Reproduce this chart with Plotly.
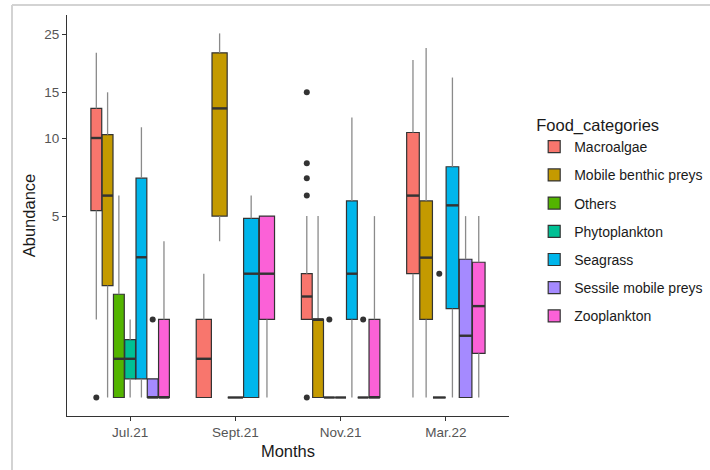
import plotly.graph_objects as go

months = ["Jul.21", "Sept.21", "Nov.21", "Mar.22"]
categories = ["Macroalgae", "Mobile benthic preys", "Others", "Phytoplankton",
              "Seagrass", "Sessile mobile preys", "Zooplankton"]
colors = ["#F8766D", "#C49A00", "#53B400", "#00C094", "#00B6EB", "#A58AFF", "#FB61D7"]

# Box statistics per category, one value per month (None = category absent that month)
low_whisker = {
    "Macroalgae":           [2.0, 1.0, 2.0, 1.0],
    "Mobile benthic preys": [1.0, 4.0, 1.0, 1.0],
    "Others":               [1.0, 1.0, 1.0, 1.0],
    "Phytoplankton":        [1.0, None, 1.0, None],
    "Seagrass":             [1.0, 1.0, 1.0, 1.0],
    "Sessile mobile preys": [1.0, None, 1.0, 1.0],
    "Zooplankton":          [1.0, 1.0, 1.0, 1.0],
}
q1_vals = {
    "Macroalgae":           [5.25, 1.0, 2.0, 3.0],
    "Mobile benthic preys": [2.7, 5.0, 1.0, 2.0],
    "Others":               [1.0, 1.0, 1.0, 1.0],
    "Phytoplankton":        [1.18, None, 1.0, None],
    "Seagrass":             [1.18, 1.0, 2.0, 2.2],
    "Sessile mobile preys": [1.0, None, 1.0, 1.0],
    "Zooplankton":          [1.0, 2.0, 1.0, 1.48],
}
median_vals = {
    "Macroalgae":           [10.0, 1.41, 2.45, 6.0],
    "Mobile benthic preys": [6.0, 13.0, 2.0, 3.46],
    "Others":               [1.41, 1.0, 1.0, 1.0],
    "Phytoplankton":        [1.41, None, 1.0, None],
    "Seagrass":             [3.47, 3.0, 3.0, 5.5],
    "Sessile mobile preys": [1.0, None, 1.0, 1.73],
    "Zooplankton":          [1.0, 3.0, 1.0, 2.25],
}
q3_vals = {
    "Macroalgae":           [13.0, 2.0, 3.0, 10.5],
    "Mobile benthic preys": [10.3, 21.3, 2.0, 5.72],
    "Others":               [2.5, 1.0, 1.0, 1.0],
    "Phytoplankton":        [1.67, None, 1.0, None],
    "Seagrass":             [7.0, 4.9, 5.72, 7.75],
    "Sessile mobile preys": [1.18, None, 1.0, 3.41],
    "Zooplankton":          [2.0, 5.0, 2.0, 3.32],
}
high_whisker = {
    "Macroalgae":           [21.3, 3.0, 5.0, 20.0],
    "Mobile benthic preys": [15.0, 25.3, 5.0, 22.2],
    "Others":               [6.0, 1.0, 1.0, 1.0],
    "Phytoplankton":        [2.0, None, 1.0, None],
    "Seagrass":             [11.0, 6.0, 12.0, 17.1],
    "Sessile mobile preys": [1.18, None, 1.0, 5.0],
    "Zooplankton":          [4.0, 5.0, 5.0, 5.0],
}
outliers = {
    "Macroalgae":           [[1.0], [], [1.0, 6.0, 7.0, 8.0, 15.0], []],
    "Mobile benthic preys": [[], [], [], []],
    "Others":               [[], [], [2.0], [3.0]],
    "Phytoplankton":        [[], [], [], []],
    "Seagrass":             [[], [], [], []],
    "Sessile mobile preys": [[2.0], [], [2.0], []],
    "Zooplankton":          [[], [], [], []],
}

DODGE = 0.75
OUTLINE = "#333333"
WHISK = "#8a8a8a"

fig = go.Figure()

# dodge positions (like ggplot position_dodge2): present groups share the width
positions = {c: [None] * 4 for c in categories}
widths = {c: [None] * 4 for c in categories}
for m in range(4):
    present = [c for c in categories if q1_vals[c][m] is not None]
    n = len(present)
    slot = DODGE / n
    for k, c in enumerate(present):
        positions[c][m] = (m + 1) - DODGE / 2 + (k + 0.5) * slot
        widths[c][m] = slot * 0.96

# whiskers (drawn as thin grey lines)
for c in categories:
    wx, wy = [], []
    for m in range(4):
        p = positions[c][m]
        if p is None:
            continue
        wx += [p, p, None, p, p, None]
        wy += [low_whisker[c][m], q1_vals[c][m], None, q3_vals[c][m], high_whisker[c][m], None]
    fig.add_trace(go.Scatter(x=wx, y=wy, mode="lines", line=dict(color=WHISK, width=1.3),
                             showlegend=False, hoverinfo="skip", legendgroup=c))

# boxes
for c, col in zip(categories, colors):
    first = True
    for m in range(4):
        p = positions[c][m]
        if p is None:
            continue
        fig.add_trace(go.Box(
            x=[p], q1=[q1_vals[c][m]], median=[median_vals[c][m]], q3=[q3_vals[c][m]],
            lowerfence=[q1_vals[c][m]], upperfence=[q3_vals[c][m]],
            width=widths[c][m], fillcolor=col, line=dict(color=OUTLINE, width=1.2),
            whiskerwidth=0, boxpoints=False, name=c, legendgroup=c, showlegend=first,
        ))
        first = False

# thick median lines and outliers
for c in categories:
    mx, my, ox, oy = [], [], [], []
    for m in range(4):
        p = positions[c][m]
        if p is None:
            continue
        h = widths[c][m] / 2
        mx += [p - h, p + h, None]
        my += [median_vals[c][m], median_vals[c][m], None]
        for v in outliers[c][m]:
            ox.append(p)
            oy.append(v)
    fig.add_trace(go.Scatter(x=mx, y=my, mode="lines", line=dict(color=OUTLINE, width=2.4),
                             showlegend=False, hoverinfo="skip", legendgroup=c))
    if ox:
        fig.add_trace(go.Scatter(x=ox, y=oy, mode="markers",
                                 marker=dict(color=OUTLINE, size=6),
                                 showlegend=False, hoverinfo="skip", legendgroup=c))

FONT = "Liberation Sans, Arial, sans-serif"
fig.update_layout(
    width=710, height=470,
    margin=dict(l=67, r=201, t=15, b=54, autoexpand=False),
    plot_bgcolor="white", paper_bgcolor="white",
    boxmode="overlay",
    font=dict(family=FONT, color="#1a1a1a"),
    showlegend=True,
    legend=dict(
        title=dict(text="Food_categories", font=dict(size=16.5, color="#1a1a1a")),
        font=dict(size=14, color="#1a1a1a"),
        x=1.057, xanchor="left", y=0.764, yanchor="top",
        traceorder="grouped", tracegroupgap=7,
        bgcolor="rgba(0,0,0,0)",
    ),
    xaxis=dict(
        range=[0.4, 4.6], tickmode="array", tickvals=[1, 2, 3, 4], ticktext=months,
        showgrid=False, zeroline=False, showline=True, linecolor="#333333", linewidth=1.2,
        ticks="outside", ticklen=4, tickcolor="#333333",
        tickfont=dict(size=13.5, color="#555555"),
        title=dict(text="Months", font=dict(size=16.5, color="#1a1a1a"), standoff=6),
    ),
    yaxis=dict(
        type="log", range=[-0.0713, 1.474], tickmode="array", tickvals=[5, 10, 15, 25],
        ticktext=["5", "10", "15", "25"],
        showgrid=False, zeroline=False, showline=True, linecolor="#333333", linewidth=1.2,
        ticks="outside", ticklen=4, tickcolor="#333333",
        tickfont=dict(size=13.5, color="#555555"),
        title=dict(text="Abundance", font=dict(size=16.5, color="#1a1a1a"), standoff=4),
    ),
    shapes=[
        dict(type="line", xref="paper", yref="paper", x0=-0.1244, x1=1.46, y0=1.025, y1=1.025,
             line=dict(color="#d3d3d3", width=2)),
        dict(type="line", xref="paper", yref="paper", x0=-0.1244, x1=-0.1244, y0=1.025, y1=-0.14,
             line=dict(color="#d3d3d3", width=2)),
    ],
)

fig.write_html("out.html")
